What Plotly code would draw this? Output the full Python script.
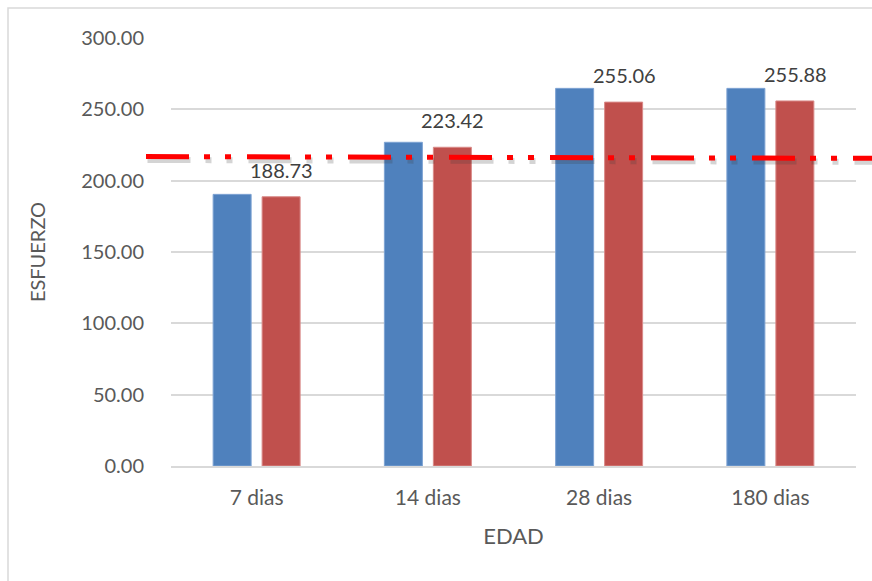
import plotly.graph_objects as go

# Edad de ensayo y esfuerzos
categorias = ["7 dias", "14 dias", "28 dias", "180 dias"]
serie_azul = [190.4, 226.9, 264.7, 264.7]
serie_roja = [188.73, 223.42, 255.06, 255.88]
referencia = [216.9, 215.6]  # línea de referencia (extremo izq., extremo der.)

AZUL = "#4F81BD"
ROJO = "#C0504D"
GRIS_TXT = "#595959"
GRIS_LIN = "#D9D9D9"
FUENTE = "Lato, Carlito, 'Open Sans', sans-serif"

W, H = 872, 581
ML, MR, MT, MB = 171, 16, 38, 115
PW = W - ML - MR
PH = H - MT - MB


def px_x(p):
    return (p - ML) / PW


def px_y(p):
    return 1 - (p - MT) / PH


fig = go.Figure()
fig.add_bar(
    x=categorias, y=serie_azul, name="Serie 1",
    marker=dict(color=AZUL, line=dict(color="#7EA3D3", width=1)),
)
fig.add_bar(
    x=categorias, y=serie_roja, name="Serie 2",
    marker=dict(color=ROJO, line=dict(color="#D98A88", width=1)),
)

# Etiquetas de valor sobre la serie roja
for c, v in zip(categorias, serie_roja):
    fig.add_annotation(
        x=c, y=v, text=f"{v:.2f}", showarrow=False,
        xshift=25, yshift=13, yanchor="bottom",
        font=dict(family=FUENTE, size=20, color="#404040"),
    )

patron = "43px,15px,6px,15px,6px,16px"
x0, x1 = px_x(146), px_x(900)
shapes = [
    # marco del gráfico
    dict(type="rect", xref="paper", yref="paper",
         x0=px_x(8), x1=px_x(900), y0=px_y(8), y1=px_y(620),
         line=dict(color=GRIS_LIN, width=1.5), fillcolor="rgba(0,0,0,0)",
         layer="below"),
    # sombra de la línea de referencia
    dict(type="line", xref="paper", yref="y",
         x0=x0 + 1.5 / PW, x1=x1 + 1.5 / PW,
         y0=referencia[0] - 2.4, y1=referencia[1] - 2.4,
         line=dict(color="rgba(60,60,60,0.22)", width=6, dash=patron),
         layer="above"),
    # línea de referencia
    dict(type="line", xref="paper", yref="y",
         x0=x0, x1=x1, y0=referencia[0], y1=referencia[1],
         line=dict(color="#FF0000", width=5, dash=patron),
         layer="above"),
]

fig.update_layout(
    width=W, height=H,
    margin=dict(l=ML, r=MR, t=MT, b=MB),
    paper_bgcolor="white", plot_bgcolor="white",
    barmode="group", bargap=0.428, bargroupgap=0.224,
    showlegend=False,
    font=dict(family=FUENTE, size=20, color=GRIS_TXT),
    shapes=shapes,
    xaxis=dict(
        title=dict(text="EDAD", standoff=21,
                   font=dict(family=FUENTE, size=22, color=GRIS_TXT)),
        showgrid=False, showline=True, linecolor=GRIS_LIN, linewidth=1.5,
        ticks="outside", ticklen=12, tickcolor="rgba(0,0,0,0)",
        tickfont=dict(family=FUENTE, size=21, color=GRIS_TXT),
    ),
    yaxis=dict(
        title=dict(text="ESFUERZO", standoff=30,
                   font=dict(family=FUENTE, size=20, color=GRIS_TXT)),
        range=[0, 300], dtick=50, tickformat=".2f",
        showgrid=True, gridcolor=GRIS_LIN, gridwidth=1.5,
        zeroline=False, showline=False,
        ticks="outside", ticklen=22, tickcolor="rgba(0,0,0,0)",
        tickfont=dict(family=FUENTE, size=20, color=GRIS_TXT),
    ),
)

fig.write_html("out.html")
